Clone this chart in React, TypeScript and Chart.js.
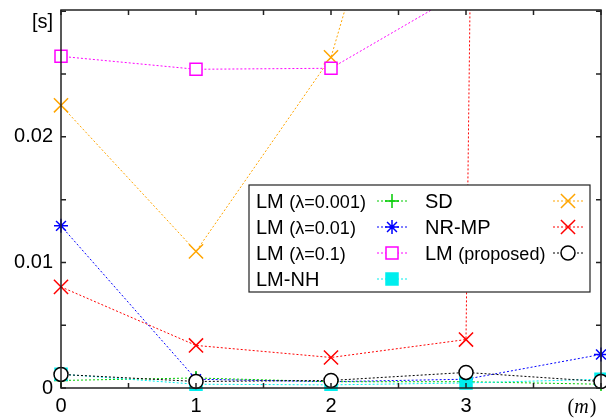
import React, { useEffect, useRef } from 'react';
import { Chart, registerables } from 'chart.js';
Chart.register(...registerables);

// ---- data ----
const xValues = [0, 1, 2, 3, 4];
const xTickLabels = ['0', '1', '2', '3', ''];
const xAxisTitle = '(m)';
const yAxisTitle = '[s]';
const yTickLabels = ['0', '0.01', '0.02'];

const lm0001 = [0.0006, 0.0008, 0.0005, 0.0005, 0.0003];
const lm001 = [0.01291, 0.0007, 0.0005, 0.0007, 0.00267];
const lm01 = [0.02641, 0.02538, 0.02546, 0.0317, 0.036];
const lmNH = [0.0011, 0.0003, 0.00025, 0.0004, 0.0007];
const sd = [0.02251, 0.01088, 0.02633, 0.063, 0.07];
const nrmp = [0.00805, 0.00339, 0.00243, 0.00386, 0.9];
const lmProposed = [0.00108, 0.00052, 0.0006, 0.00124, 0.00052];

const seriesNames: [string, string][] = [
  ['LM ', '(λ=0.001)'],
  ['LM ', '(λ=0.01)'],
  ['LM ', '(λ=0.1)'],
  ['LM-NH', ''],
  ['SD', ''],
  ['NR-MP', ''],
  ['LM ', '(proposed)'],
];

type Marker = 'cross' | 'star' | 'rect' | 'crossRot' | 'circle';
const seriesStyle: { color: string; marker: Marker; r: number; fill: string }[] = [
  { color: '#00cc00', marker: 'cross', r: 7, fill: '#00cc00' },
  { color: '#0000ff', marker: 'star', r: 7, fill: '#0000ff' },
  { color: '#ff00ff', marker: 'rect', r: 8.5, fill: '#ffffff' },
  { color: '#00eeee', marker: 'rect', r: 8.5, fill: '#00eeee' },
  { color: '#ffa500', marker: 'crossRot', r: 10, fill: '#ffa500' },
  { color: '#ff0000', marker: 'crossRot', r: 10, fill: '#ff0000' },
  { color: '#000000', marker: 'circle', r: 7, fill: '#ffffff' },
];
const seriesData = [lm0001, lm001, lm01, lmNH, sd, nrmp, lmProposed];

function drawMarker(ctx: CanvasRenderingContext2D, m: Marker, x: number, y: number, r: number, color: string, fill: string) {
  ctx.save();
  ctx.setLineDash([]);
  ctx.strokeStyle = color;
  ctx.fillStyle = fill;
  ctx.lineWidth = 1.5;
  ctx.beginPath();
  if (m === 'cross' || m === 'star') {
    ctx.moveTo(x - r, y); ctx.lineTo(x + r, y);
    ctx.moveTo(x, y - r); ctx.lineTo(x, y + r);
  }
  if (m === 'crossRot' || m === 'star') {
    const d = r * Math.SQRT1_2;
    ctx.moveTo(x - d, y - d); ctx.lineTo(x + d, y + d);
    ctx.moveTo(x - d, y + d); ctx.lineTo(x + d, y - d);
  }
  if (m === 'rect') {
    const s = r * Math.SQRT1_2;
    ctx.rect(x - s, y - s, 2 * s, 2 * s);
    ctx.fill();
  }
  if (m === 'circle') {
    ctx.arc(x, y, r, 0, Math.PI * 2);
    ctx.fill();
  }
  ctx.stroke();
  ctx.restore();
}

const FONT = '"Liberation Sans", Arial, sans-serif';

const decorPlugin = {
  id: 'decor',
  afterDatasetsDraw(chart: any) {
    const ctx: CanvasRenderingContext2D = chart.ctx;
    const { left, right, top, bottom } = chart.chartArea;
    const xs = chart.scales.x;
    const ys = chart.scales.y;
    ctx.save();
    ctx.setLineDash([]);
    ctx.strokeStyle = '#222';
    ctx.lineWidth = 1.5;
    // inward ticks
    ctx.beginPath();
    for (let v = 0; v <= 4.001; v += 0.5) {
      const px = xs.getPixelForValue(v);
      ctx.moveTo(px, bottom); ctx.lineTo(px, bottom - 5);
      ctx.moveTo(px, top); ctx.lineTo(px, top + 5);
    }
    for (let v = 0; v <= 0.03001; v += 0.005) {
      const py = ys.getPixelForValue(v);
      ctx.moveTo(left, py); ctx.lineTo(left + 5, py);
      ctx.moveTo(right, py); ctx.lineTo(right - 5, py);
    }
    ctx.stroke();
    ctx.strokeRect(left, top, right - left, bottom - top);

    // axis titles
    ctx.fillStyle = '#000';
    ctx.font = `20px ${FONT}`;
    ctx.textAlign = 'right';
    ctx.textBaseline = 'middle';
    ctx.fillText(yAxisTitle, 53, 22);

    // (m) with italic m
    const base = 413;
    ctx.textAlign = 'left';
    ctx.textBaseline = 'alphabetic';
    const up = '20px "Liberation Serif", serif';
    const it = 'italic 20px "Liberation Serif", serif';
    const parts: [string, string][] = [[xAxisTitle[0], up], [xAxisTitle.slice(1, -1), it], [xAxisTitle.slice(-1), up]];
    let total = 0;
    for (const [t, f] of parts) { ctx.font = f; total += ctx.measureText(t).width + (f === it ? 1 : 0); }
    let cx = 582 - total / 2;
    for (const [t, f] of parts) {
      ctx.font = f;
      ctx.fillText(t, cx, base);
      cx += ctx.measureText(t).width + (f === it ? 1 : 0);
    }

    // legend
    const bx = 249, by = 185, bw = 341, bh = 107;
    ctx.fillStyle = '#fff';
    ctx.fillRect(bx, by, bw, bh);
    ctx.strokeStyle = '#222';
    ctx.lineWidth = 1.2;
    ctx.strokeRect(bx, by, bw, bh);
    const cols = [{ tx: 256, l0: 377, l1: 407, mx: 392 }, { tx: 425, l0: 553, l1: 584, mx: 568 }];
    seriesNames.forEach((nm, i) => {
      const col = cols[i < 4 ? 0 : 1];
      const row = i < 4 ? i : i - 4;
      const baseline = 208 + row * 26;
      const cy = baseline - 7;
      ctx.fillStyle = '#000';
      ctx.textAlign = 'left';
      ctx.textBaseline = 'alphabetic';
      ctx.font = `20px ${FONT}`;
      ctx.fillText(nm[0], col.tx, baseline);
      const w = ctx.measureText(nm[0]).width;
      if (nm[1]) {
        ctx.font = `18px ${FONT}`;
        ctx.fillText(nm[1], col.tx + w, baseline);
      }
      const st = seriesStyle[i];
      ctx.save();
      ctx.strokeStyle = st.color;
      ctx.lineWidth = 1;
      ctx.setLineDash([2, 2]);
      ctx.beginPath();
      ctx.moveTo(col.l0, cy); ctx.lineTo(col.l1, cy);
      ctx.stroke();
      ctx.restore();
      drawMarker(ctx, st.marker, col.mx, cy, st.r, st.color, st.fill);
    });
    ctx.restore();
  },
};

export default function App() {
  const ref = useRef<HTMLCanvasElement>(null);
  useEffect(() => {
    if (!ref.current) return;
    const datasets = seriesData.map((d, i) => {
      const st = seriesStyle[i];
      return {
        label: seriesNames[i].join(''),
        data: d.map((v, k) => ({ x: xValues[k], y: v })),
        borderColor: st.color,
        backgroundColor: st.fill,
        borderWidth: 1,
        borderDash: [2, 2],
        pointStyle: st.marker,
        pointRadius: st.r,
        pointBorderColor: st.color,
        pointBackgroundColor: st.fill,
        pointBorderWidth: 1.5,
        tension: 0,
        fill: false,
        order: i === 6 ? 0 : i === 3 ? 1 : 2,
        clip: { left: 12, right: 12, top: 0, bottom: 3 },
      };
    });
    const chart = new Chart(ref.current, {
      type: 'line',
      data: { datasets },
      plugins: [decorPlugin],
      options: {
        animation: false,
        responsive: false,
        layout: { autoPadding: false, padding: { top: 10, right: 5, left: 0, bottom: 0 } },
        plugins: { legend: { display: false }, tooltip: { enabled: false } },
        scales: {
          x: {
            type: 'linear',
            min: 0,
            max: 4,
            grid: { display: false, drawTicks: false },
            border: { display: false },
            ticks: {
              stepSize: 1,
              padding: 6,
              color: '#000',
              font: { family: FONT, size: 20 },
              maxRotation: 0,
              autoSkip: false,
              callback: (v: any) => {
                const k = Math.round(Number(v));
                return Math.abs(Number(v) - k) < 1e-6 && k >= 0 && k < xTickLabels.length ? xTickLabels[k] : '';
              },
            },
            afterFit: (s: any) => { s.height = 31; s.paddingLeft = 0; s.paddingRight = 0; s.paddingTop = 0; s.paddingBottom = 0; },
          },
          y: {
            type: 'linear',
            min: 0,
            max: 0.0301,
            grid: { display: false, drawTicks: false },
            border: { display: false },
            ticks: {
              stepSize: 0.01,
              padding: 8,
              color: '#000',
              font: { family: FONT, size: 20 },
              callback: (v: any) => {
                const k = Math.round(Number(v) * 100);
                return Math.abs(Number(v) * 100 - k) < 1e-6 && k < yTickLabels.length ? yTickLabels[k] : '';
              },
            },
            afterFit: (s: any) => { s.width = 61; s.paddingLeft = 0; s.paddingRight = 0; s.paddingTop = 0; s.paddingBottom = 0; },
          },
        },
      },
    });
    return () => chart.destroy();
  }, []);
  return (
    <div style={{ position: 'fixed', left: 0, top: 0, width: 606, height: 419, background: '#fff' }}>
      <canvas ref={ref} width={606} height={419} style={{ display: 'block' }} />
    </div>
  );
}
